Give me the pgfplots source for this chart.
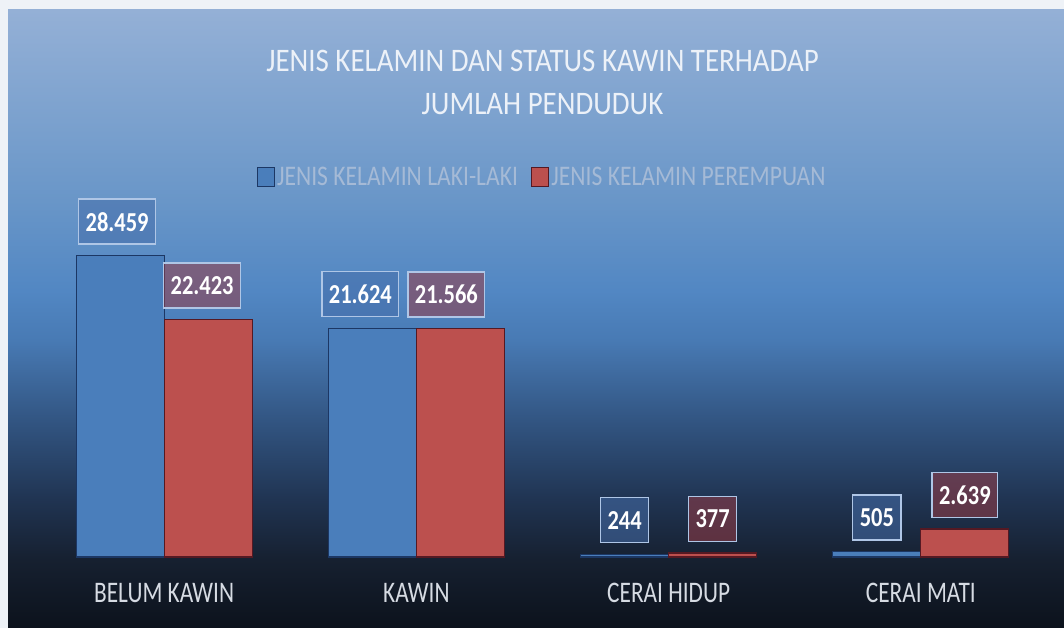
\documentclass[border=0pt]{standalone}
\usepackage{fontspec}
\usepackage{pgfplots}
\usepackage{pgfplotstable}
\pgfplotsset{compat=1.18}
\setmainfont{Carlito}
\newfontfamily\titlefont{Carlito}[FakeStretch=0.88]
\newfontfamily\legfont{Carlito}[FakeStretch=0.83]
\newfontfamily\catfont{Carlito}[FakeStretch=0.78]
\newfontfamily\valfont{Carlito}[FakeStretch=0.82]

\definecolor{bgout}{RGB}{238,242,247}
\definecolor{s0}{RGB}{12,18,28}
\definecolor{s1}{RGB}{22,32,48}
\definecolor{s2}{RGB}{32,52,82}
\definecolor{s3}{RGB}{50,85,130}
\definecolor{s4}{RGB}{72,122,180}
\definecolor{s5}{RGB}{82,135,195}
\definecolor{s6}{RGB}{105,150,200}
\definecolor{s7}{RGB}{148,176,214}
\definecolor{barblue}{RGB}{74,126,187}
\definecolor{barblueedge}{RGB}{28,55,100}
\definecolor{barred}{RGB}{188,80,78}
\definecolor{barrededge}{RGB}{85,25,35}
\definecolor{boxedge}{RGB}{175,198,230}
\definecolor{boxblue}{RGB}{70,110,170}
\definecolor{boxred}{RGB}{150,60,70}
\definecolor{titletext}{RGB}{236,241,248}
\definecolor{legtext}{RGB}{165,186,214}
\definecolor{cattext}{RGB}{214,219,227}

\pgfdeclareverticalshading{panel}{100bp}{%
color(0bp)=(s0); color(25bp)=(s0); color(30.5bp)=(s1); color(35.4bp)=(s2);
color(41.8bp)=(s3); color(48.3bp)=(s4); color(52.3bp)=(s5); color(59.6bp)=(s6);
color(75bp)=(s7); color(100bp)=(s7)}

\pgfplotstableread{
x y dx lab
0 28459 -3 28.459
1 21624 -12 21.624
2 244 0 244
3 505 0 505
}\laki
\pgfplotstableread{
x y dx lab
0 22423 -6 22.423
1 21566 -14 21.566
2 377 0 377
3 2639 0 2.639
}\perem

\begin{document}
\begin{tikzpicture}[x=1bp,y=1bp]
\path[use as bounding box] (0,0) rectangle (1064,628);
\fill[bgout] (0,0) rectangle (1064,628);
\shade[shading=panel] (8,0) rectangle (1064,618);
\begin{axis}[
  at={(38bp,71bp)}, anchor=south west,
  scale only axis, width=1009bp, height=317.5bp,
  xmin=-0.5, xmax=3.5, ymin=0, ymax=30000,
  clip=false,
  axis line style={draw=none},
  major tick length=0pt,
  ytick=\empty,
  xtick={0,1,2,3},
  xticklabels={BELUM KAWIN, KAWIN, CERAI HIDUP, CERAI MATI},
  xticklabel style={anchor=base, yshift=-46bp, text=cattext,
    font=\catfont\fontsize{30}{30}\selectfont},
  ybar=0pt, bar width=88bp,
  title={JENIS KELAMIN DAN STATUS KAWIN TERHADAP\\JUMLAH PENDUDUK},
  title style={font=\titlefont\fontsize{33}{43}\selectfont, text=titletext,
    align=center, at={(0.5,1.477)}, anchor=center},
  legend style={at={(0.4995,1.197)}, anchor=center, draw=none, fill=none,
    legend columns=2, text=legtext,
    font=\legfont\fontsize{28.5}{30}\selectfont,
    /tikz/every even column/.append style={column sep=11bp}},
  legend cell align=left,
  point meta=explicit symbolic,
  nodes near coords,
  visualization depends on={\thisrow{dx} \as \dx},
  nodes near coords style={anchor=south, yshift=11bp, xshift=\dx*1bp,
    draw=boxedge, line width=1.3bp, text=white, fill opacity=0.55, text opacity=1,
    minimum height=45bp, inner xsep=7bp,
    font=\valfont\bfseries\fontsize{27.5}{28}\selectfont},
]
\addplot[fill=barblue, draw=barblueedge, line width=1.2bp,
  nodes near coords style={fill=boxblue},
  legend image code/.code={\draw[fill=barblue, draw=barblueedge, line width=1.5bp] (0bp,-9.5bp) rectangle (17bp,9.5bp);}]
  table[x=x, y=y, meta=lab]{\laki};
\addlegendentry{JENIS KELAMIN LAKI-LAKI}
\addplot[fill=barred, draw=barrededge, line width=1.2bp,
  nodes near coords style={fill=boxred},
  legend image code/.code={\draw[fill=barred, draw=barrededge, line width=1.5bp] (0bp,-9.5bp) rectangle (17bp,9.5bp);}]
  table[x=x, y=y, meta=lab]{\perem};
\addlegendentry{JENIS KELAMIN PEREMPUAN}
\end{axis}
\end{tikzpicture}
\end{document}
